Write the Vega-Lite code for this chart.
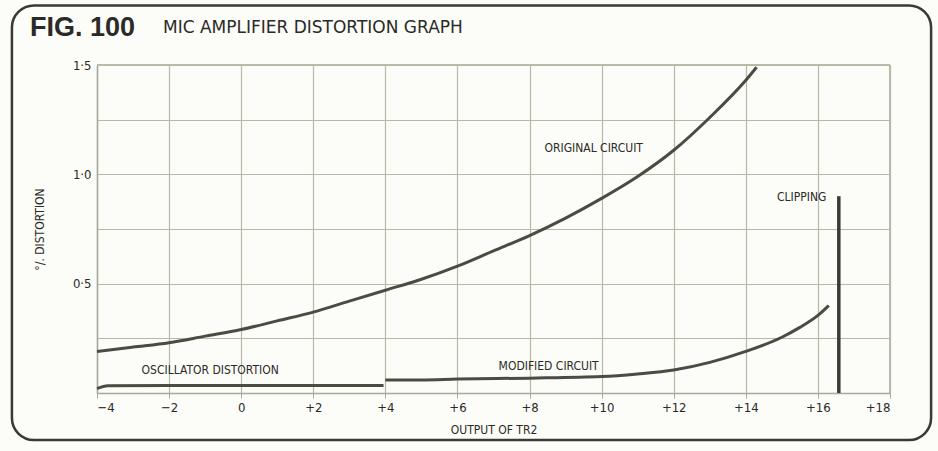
{
  "$schema": "https://vega.github.io/schema/vega-lite/v6.json",
  "autosize": "none",
  "width": 793,
  "height": 328,
  "padding": {"left": 97, "top": 65, "right": 48, "bottom": 58},
  "background": "#fcfcf8",
  "config": {
    "view": {"stroke": null},
    "font": "DejaVu Sans Condensed"
  },
  "datasets": {
    "curves": [
      {"series": "original", "x": -4, "y": 0.19},
      {"series": "original", "x": -3, "y": 0.21},
      {"series": "original", "x": -2, "y": 0.23},
      {"series": "original", "x": -1, "y": 0.26},
      {"series": "original", "x": 0, "y": 0.29},
      {"series": "original", "x": 1, "y": 0.33},
      {"series": "original", "x": 2, "y": 0.37},
      {"series": "original", "x": 3, "y": 0.42},
      {"series": "original", "x": 4, "y": 0.47},
      {"series": "original", "x": 5, "y": 0.52},
      {"series": "original", "x": 6, "y": 0.58},
      {"series": "original", "x": 7, "y": 0.65},
      {"series": "original", "x": 8, "y": 0.72},
      {"series": "original", "x": 9, "y": 0.8},
      {"series": "original", "x": 10, "y": 0.89},
      {"series": "original", "x": 11, "y": 0.99},
      {"series": "original", "x": 12, "y": 1.11},
      {"series": "original", "x": 13, "y": 1.26},
      {"series": "original", "x": 14, "y": 1.43},
      {"series": "original", "x": 14.3, "y": 1.49},
      {"series": "oscillator", "x": -4, "y": 0.02},
      {"series": "oscillator", "x": -3.7, "y": 0.033},
      {"series": "oscillator", "x": -2, "y": 0.034},
      {"series": "oscillator", "x": 0, "y": 0.034},
      {"series": "oscillator", "x": 2, "y": 0.034},
      {"series": "oscillator", "x": 3.95, "y": 0.034},
      {"series": "modified", "x": 4, "y": 0.06},
      {"series": "modified", "x": 5, "y": 0.06},
      {"series": "modified", "x": 6, "y": 0.064},
      {"series": "modified", "x": 8, "y": 0.068},
      {"series": "modified", "x": 10, "y": 0.075},
      {"series": "modified", "x": 11, "y": 0.087},
      {"series": "modified", "x": 12, "y": 0.105},
      {"series": "modified", "x": 13, "y": 0.14},
      {"series": "modified", "x": 14, "y": 0.19},
      {"series": "modified", "x": 15, "y": 0.255},
      {"series": "modified", "x": 15.5, "y": 0.3},
      {"series": "modified", "x": 16, "y": 0.355},
      {"series": "modified", "x": 16.3, "y": 0.4}
    ],
    "clipping": [
      {"x": 16.58, "y": 0.9}
    ],
    "labels": [
      {"label": "ORIGINAL CIRCUIT", "x": 9.78, "y": 1.12},
      {"label": "CLIPPING", "x": 15.55, "y": 0.895},
      {"label": "OSCILLATOR DISTORTION", "x": -0.86, "y": 0.105},
      {"label": "MODIFIED CIRCUIT", "x": 8.53, "y": 0.123}
    ],
    "figure": [
      {"label": "FIG. 100", "x": -5.86, "y": 1.667}
    ],
    "heading": [
      {"label": "MIC AMPLIFIER DISTORTION GRAPH", "x": -2.17, "y": 1.667}
    ]
  },
  "layer": [
    {
      "data": {"name": "heading"},
      "mark": {"type": "rect", "filled": false, "stroke": "#3a3a34", "strokeWidth": 2.5, "cornerRadius": 22},
      "encoding": {
        "x": {"datum": -6.36, "type": "quantitative"},
        "x2": {"datum": 19.14},
        "y": {"datum": 1.772, "type": "quantitative"},
        "y2": {"datum": -0.215}
      }
    },
    {
      "data": {"name": "curves"},
      "mark": {"type": "line", "color": "#4a4c42", "strokeWidth": 3, "interpolate": "monotone"},
      "encoding": {
        "x": {
          "field": "x", "type": "quantitative",
          "scale": {"domain": [-4, 18], "nice": false, "zero": false},
          "axis": {
            "values": [-4, -2, 0, 2, 4, 6, 8, 10, 12, 14, 16, 18],
            "labelExpr": "datum.value > 0 ? '+' + datum.value : (datum.value < 0 ? '\u2212' + abs(datum.value) : '0')",
            "title": "OUTPUT OF TR2",
            "titleFont": "DejaVu Sans Condensed",
            "titleFontSize": 12,
            "titleFontWeight": "normal",
            "titleColor": "#2a2a26",
            "titlePadding": 10,
            "labelFont": "DejaVu Sans Condensed",
            "labelFontSize": 13,
            "labelColor": "#2a2a26",
            "labelPadding": 3,
            "grid": true,
            "gridColor": "#b9b9aa",
            "gridWidth": 1.2,
            "gridOpacity": 1,
            "domainColor": "#a9a99a",
            "domainWidth": 1.5,
            "tickColor": "#a9a99a",
            "tickSize": 5
          }
        },
        "y": {
          "field": "y", "type": "quantitative",
          "scale": {"domain": [0, 1.5], "nice": false},
          "axis": {
            "values": [0, 0.25, 0.5, 0.75, 1, 1.25, 1.5],
            "labelExpr": "(datum.value == 0.5 || datum.value == 1 || datum.value == 1.5) ? replace(format(datum.value, '.1f'), '.', '\u00b7') : ''",
            "title": "\u00b0/. DISTORTION",
            "titleFont": "DejaVu Sans Condensed",
            "titleFontSize": 12,
            "titleFontWeight": "normal",
            "titleColor": "#2a2a26",
            "titlePadding": 26,
            "labelFont": "DejaVu Sans Condensed",
            "labelFontSize": 13,
            "labelColor": "#2a2a26",
            "labelPadding": 6,
            "ticks": false,
            "grid": true,
            "gridColor": "#b9b9aa",
            "gridWidth": 1.2,
            "gridOpacity": 1,
            "domainColor": "#a9a99a",
            "domainWidth": 1.5
          }
        },
        "detail": {"field": "series"}
      }
    },
    {
      "data": {"name": "curves"},
      "mark": {"type": "rule", "color": "#b9b9aa", "strokeWidth": 1.2},
      "encoding": {
        "y": {"datum": 1.5, "type": "quantitative"}
      }
    },
    {
      "data": {"name": "curves"},
      "mark": {"type": "rule", "color": "#b9b9aa", "strokeWidth": 1.2},
      "encoding": {
        "x": {"datum": 18, "type": "quantitative"}
      }
    },
    {
      "data": {"name": "clipping"},
      "mark": {"type": "rule", "color": "#3a3c34", "strokeWidth": 3.5},
      "encoding": {
        "x": {"field": "x", "type": "quantitative"},
        "y": {"field": "y", "type": "quantitative"},
        "y2": {"datum": 0}
      }
    },
    {
      "data": {"name": "labels"},
      "mark": {"type": "text", "font": "DejaVu Sans Condensed", "fontSize": 12, "color": "#2a2a26", "align": "center", "baseline": "middle"},
      "encoding": {
        "x": {"field": "x", "type": "quantitative"},
        "y": {"field": "y", "type": "quantitative"},
        "text": {"field": "label"}
      }
    },
    {
      "data": {"name": "figure"},
      "mark": {"type": "text", "font": "Liberation Sans", "fontSize": 27, "fontWeight": "bold", "color": "#2a2a26", "align": "left", "baseline": "middle"},
      "encoding": {
        "x": {"field": "x", "type": "quantitative"},
        "y": {"field": "y", "type": "quantitative"},
        "text": {"field": "label"}
      }
    },
    {
      "data": {"name": "heading"},
      "mark": {"type": "text", "font": "DejaVu Sans", "fontSize": 17, "color": "#2a2a26", "align": "left", "baseline": "middle"},
      "encoding": {
        "x": {"field": "x", "type": "quantitative"},
        "y": {"field": "y", "type": "quantitative"},
        "text": {"field": "label"}
      }
    }
  ]
}
